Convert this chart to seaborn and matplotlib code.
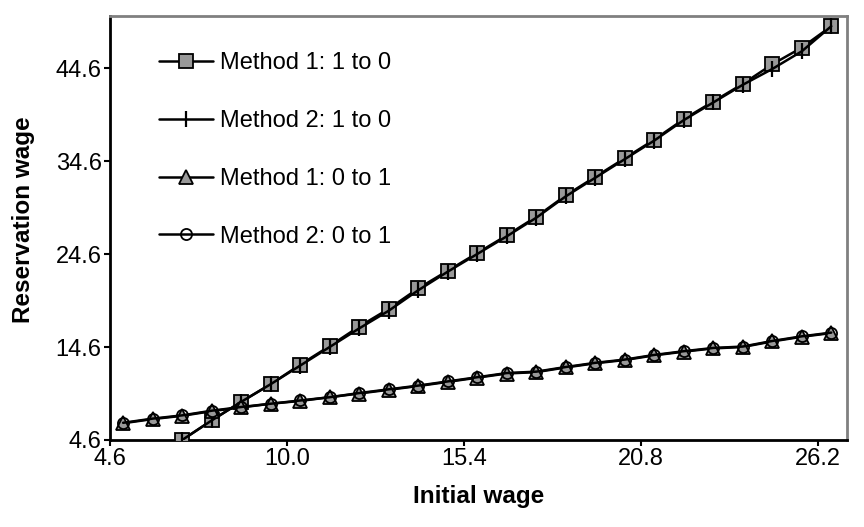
import matplotlib
matplotlib.use("Agg")
import matplotlib.pyplot as plt
import seaborn as sns

# Initial wage grid shared by the series
initial_wage = [5.0, 5.9, 6.8, 7.7, 8.6, 9.5, 10.4, 11.3, 12.2, 13.1, 14.0, 14.9,
                15.8, 16.7, 17.6, 18.5, 19.4, 20.3, 21.2, 22.1, 23.0, 23.9, 24.8,
                25.7, 26.6]

# Reservation wage, switching from 1 to 0 (starts at 6.8)
m1_1to0 = [4.6, 6.7, 8.7, 10.6, 12.7, 14.7, 16.8, 18.7, 20.9, 22.8, 24.7, 26.6,
           28.6, 30.9, 32.9, 34.9, 36.9, 39.1, 41.0, 42.9, 45.0, 46.8, 49.1]
m2_1to0 = [4.6, 6.7, 8.7, 10.6, 12.6, 14.6, 16.6, 18.5, 20.7, 22.7, 24.6, 26.5,
           28.5, 30.8, 32.8, 34.8, 36.8, 39.0, 40.9, 42.8, 44.5, 46.4, 49.1]

# Reservation wage, switching from 0 to 1
m1_0to1 = [6.4, 6.85, 7.2, 7.7, 8.1, 8.5, 8.8, 9.2, 9.6, 10.0, 10.4, 10.85,
           11.3, 11.75, 11.9, 12.4, 12.85, 13.2, 13.7, 14.1, 14.45, 14.6, 15.2,
           15.7, 16.1]
m2_0to1 = [6.45, 6.9, 7.25, 7.75, 8.15, 8.5, 8.85, 9.2, 9.65, 10.05, 10.45, 10.9,
           11.35, 11.8, 11.95, 12.45, 12.9, 13.25, 13.75, 14.15, 14.5, 14.65,
           15.25, 15.75, 16.15]

x_ticks = [4.6, 10.0, 15.4, 20.8, 26.2]
y_ticks = [4.6, 14.6, 24.6, 34.6, 44.6]

sns.set_theme(style="white")
plt.rcParams["font.family"] = ["Liberation Sans", "DejaVu Sans"]
plt.rcParams.update({"text.color": "black", "axes.labelcolor": "black",
                     "xtick.color": "black", "ytick.color": "black"})

fig = plt.figure(figsize=(8.64, 5.27), dpi=100)
ax = fig.add_axes([110 / 864, 1 - 440 / 527, 737 / 864, 424 / 527])

x_hi = initial_wage[2:]
gray = "#999999"
common = dict(ax=ax, color="black", linewidth=1.8, errorbar=None,
              markeredgecolor="black", markeredgewidth=1.3)

sns.lineplot(x=x_hi, y=m1_1to0, marker="s", markersize=9.5,
             markerfacecolor=gray, label="Method 1: 1 to 0", zorder=3, **common)
sns.lineplot(x=x_hi, y=m2_1to0, marker="|", markersize=12,
             label="Method 2: 1 to 0", zorder=4,
             **{**common, "markeredgewidth": 1.6})
sns.lineplot(x=initial_wage, y=m1_0to1, marker="^", markersize=9.5,
             markerfacecolor=gray, label="Method 1: 0 to 1", zorder=4, **common)
sns.lineplot(x=initial_wage, y=m2_0to1, marker="o", markersize=8,
             markerfacecolor="none", label="Method 2: 0 to 1", zorder=5, **common)

ax.set_xlim(4.6, 27.08)
ax.set_ylim(4.6, 50.2)
ax.set_xticks(x_ticks)
ax.set_xticklabels([f"{v:.1f}" for v in x_ticks])
ax.set_yticks(y_ticks)
ax.set_yticklabels([f"{v:.1f}" for v in y_ticks])
ax.tick_params(axis="both", direction="out", length=4, width=1.5,
               color="black", labelcolor="black", labelsize=17, pad=2,
               left=True, bottom=True)

for side in ("left", "bottom"):
    ax.spines[side].set_color("black")
    ax.spines[side].set_linewidth(2)
for side in ("top", "right"):
    ax.spines[side].set_color("#808080")
    ax.spines[side].set_linewidth(2)

ax.set_xlabel("Initial wage", fontsize=17.5, fontweight="bold")
ax.set_ylabel("Reservation wage", fontsize=17.5, fontweight="bold")
ax.xaxis.set_label_coords(0.5, -0.105)
ax.yaxis.set_label_coords(-0.102, 0.519)

ax.legend(loc="upper left", bbox_to_anchor=((159 - 110) / 737, (440 - 52) / 424),
          frameon=False, fontsize=17, handlelength=2.3, handletextpad=0.3,
          labelspacing=1.52, borderpad=0, borderaxespad=0)

fig.savefig("out.png", dpi=100)
